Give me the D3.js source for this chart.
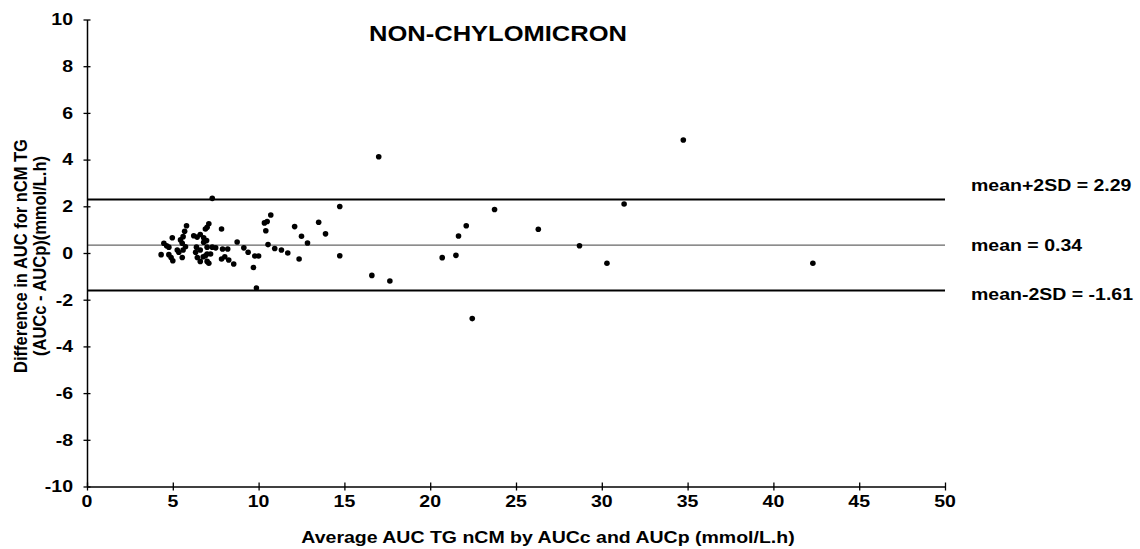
<!DOCTYPE html>
<html>
<head>
<meta charset="utf-8">
<script src="https://cdn.jsdelivr.net/npm/d3@7"></script>
<style>
  html, body { margin: 0; padding: 0; background: #fff; }
  svg { display: block; }
  text { font-family: "Liberation Sans", Arial, Helvetica, sans-serif; font-weight: bold; fill: #000; }
</style>
</head>
<body>
<svg id="chart" width="1140" height="549"></svg>
<script>
// ---- data ----
const avgAUC = [4.32, 4.48, 4.64, 4.77, 4.77, 4.9, 5.0, 4.97, 5.26, 5.35, 5.45, 5.55, 5.6, 5.74, 5.55, 5.6, 5.69, 5.8,
  6.22, 6.42, 6.6, 6.8, 7.0, 7.1, 6.9, 6.8, 6.97, 6.38, 6.6, 6.33, 6.43, 6.77, 7.0, 6.6, 7.0, 7.3, 7.5, 7.2, 7.1, 7.3,
  7.0, 6.9,
  7.84, 7.9, 8.2, 7.84, 8.03, 8.26, 8.55, 8.75, 9.14, 9.39, 9.7, 9.78, 10.0, 9.87,
  10.34, 10.5, 10.71, 10.42, 10.55, 10.94, 11.33, 11.7, 12.1, 12.36, 12.5, 12.85, 13.5, 13.9,
  14.73, 14.73, 16.6, 17.0, 17.65, 20.7, 21.5, 21.65, 22.1, 22.45, 23.75, 26.3, 28.7, 30.3, 31.3, 34.75, 42.3];
const diffAUC = [-0.07, 0.42, 0.31, 0.25, -0.07, -0.19, -0.33, 0.65, 0.13, 0.03, 0.56, 0.42, 0.13, 0.27, -0.19, 0.70, 0.93, 1.17,
  0.74, 0.68, 0.79, 0.65, 1.1, 1.25, 1.03, 0.46, 0.53, 0.25, 0.13, 0.03, -0.19, -0.16, -0.04, -0.36, -0.36, 0.25, 0.22, -0.04, -0.44, 2.34,
  0.25, -0.12,
  1.03, 0.17, 0.17, -0.26, -0.16, -0.3, -0.47, 0.47, 0.22, 0.03, -0.62, -0.13, -0.13, -1.5,
  1.29, 1.35, 1.63, 0.95, 0.36, 0.19, 0.13, 0.0, 1.13, -0.26, 0.72, 0.43, 1.32, 0.82,
  1.99, -0.12, -0.96, 4.12, -1.2, -0.2, -0.1, 0.73, 1.17, -2.81, 1.86, 1.02, 0.31, -0.44, 2.1, 4.84, -0.44];
const refNames = ["mean+2SD = 2.29", "mean = 0.34", "mean-2SD = -1.61"];
const refValues = [2.29, 0.34, -1.61];
const xTicks = [0, 5, 10, 15, 20, 25, 30, 35, 40, 45, 50];
const yTicks = [-10, -8, -6, -4, -2, 0, 2, 4, 6, 8, 10];
const titleText = "NON-CHYLOMICRON";
const xTitle = "Average AUC TG nCM by AUCc and AUCp (mmol/L.h)";
const yTitle = ["Difference in AUC for nCM TG", "(AUCc - AUCp)(mmol/L.h)"];

// ---- layout ----
const svg = d3.select("#chart");
const L = 87, R = 945, T = 19.5, B = 486.5;
const SX = 1.22; // horizontal text stretch
const x = d3.scaleLinear().domain([0, 50]).range([L, R]);
const y = d3.scaleLinear().domain([-10, 10]).range([B, T]);

function hText(g, str, px, py, size, anchor, sx) {
  return g.append("text")
    .attr("transform", `translate(${px},${py}) scale(${sx},1)`)
    .attr("text-anchor", anchor)
    .style("font-size", size + "px")
    .text(str);
}

// reference lines
const refStyle = [{w: 2, c: "#000"}, {w: 1.3, c: "#666"}, {w: 2, c: "#000"}];
svg.append("g").selectAll("line").data(refValues).join("line")
  .attr("x1", x(0)).attr("x2", x(50))
  .attr("y1", d => y(d)).attr("y2", d => y(d))
  .attr("stroke", (d, i) => refStyle[i].c)
  .attr("stroke-width", (d, i) => refStyle[i].w);

// y axis
const yAxis = svg.append("g").attr("transform", `translate(${x(0)},0)`)
  .call(d3.axisLeft(y).tickValues(yTicks).tickSize(3.5).tickSizeOuter(0).tickPadding(0).tickFormat(""));
yAxis.select(".domain").attr("stroke", "#000").attr("stroke-width", 1.5);
yAxis.selectAll(".tick line").attr("x1", 3.5).attr("stroke", "#000").attr("stroke-width", 1.3);
yTicks.forEach(v => hText(svg, String(v), x(0) - 14, y(v) + 5.8, 16, "end", SX));

// x axis
const xAxis = svg.append("g").attr("transform", `translate(0,${y(-10)})`)
  .call(d3.axisBottom(x).tickValues(xTicks).tickSize(4).tickSizeOuter(0).tickPadding(0).tickFormat(""));
xAxis.select(".domain").attr("stroke", "#000").attr("stroke-width", 1.5);
xAxis.selectAll(".tick line").attr("y1", -4).attr("stroke", "#000").attr("stroke-width", 1.3);
xTicks.forEach(v => hText(svg, String(v), x(v), 507, 16, "middle", SX));

// points
svg.append("g").selectAll("circle").data(avgAUC.map((v, i) => [v, diffAUC[i]])).join("circle")
  .attr("cx", d => x(d[0])).attr("cy", d => y(d[1])).attr("r", 2.8).attr("fill", "#000");

// reference labels
const labelY = [191, 251, 300];
refNames.forEach((s, i) => hText(svg, s, 971, labelY[i], 16, "start", SX));

// title
hText(svg, titleText, 498, 41, 22, "middle", 1.16);

// axis titles
hText(svg, xTitle, 548, 543, 16, "middle", SX);
yTitle.forEach((s, i) => {
  svg.append("text")
    .attr("transform", `translate(${i === 0 ? 27 : 46},256) rotate(-90) scale(1,1.15)`)
    .attr("text-anchor", "middle")
    .style("font-size", "16.5px")
    .text(s);
});
</script>
</body>
</html>
